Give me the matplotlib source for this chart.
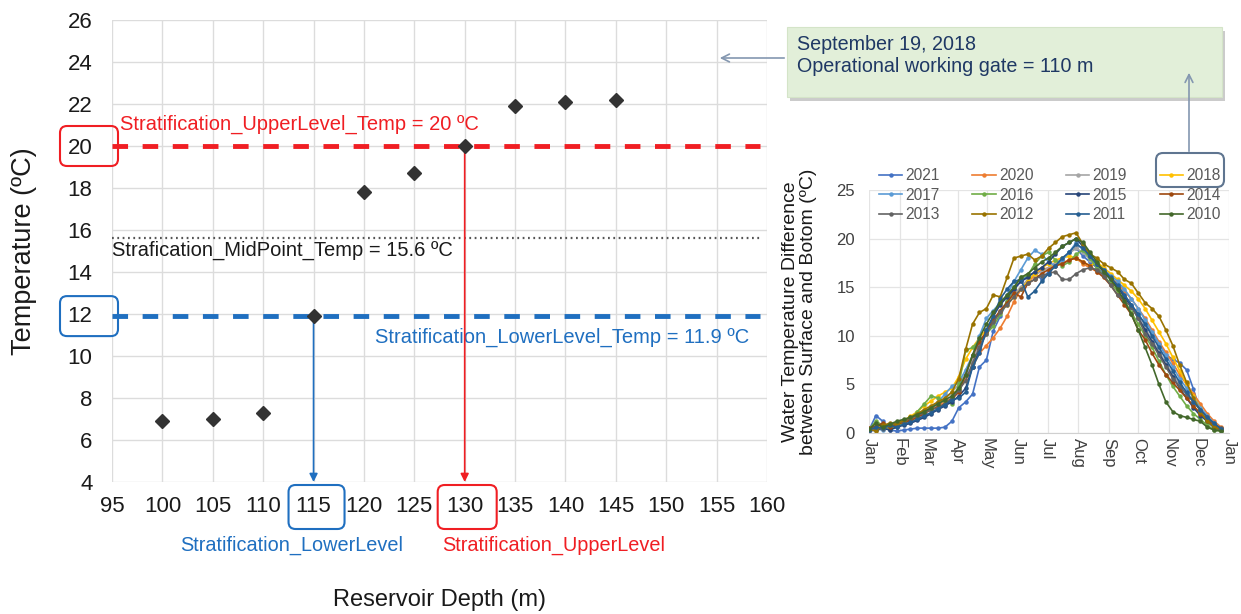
import matplotlib
matplotlib.use('Agg')
import matplotlib.pyplot as plt
import matplotlib.transforms as mtransforms
from matplotlib.patches import FancyBboxPatch, Rectangle, FancyArrowPatch
import numpy as np

plt.rcParams['font.family'] = ['Liberation Sans', 'DejaVu Sans']

# main chart data
depth = [100, 105, 110, 115, 120, 125, 130, 135, 140, 145]
temp = [6.9, 7.0, 7.3, 11.9, 17.8, 18.7, 20.0, 21.9, 22.1, 22.2]
upper_temp = 20
mid_temp = 15.6
lower_temp = 11.9
lower_depth = 115
upper_depth = 130
x_ticks = list(range(95, 161, 5))
y_ticks = list(range(4, 27, 2))

# inset data (weekly values from Jan 1)
months = ['Jan', 'Feb', 'Mar', 'Apr', 'May', 'Jun', 'Jul', 'Aug', 'Sep', 'Oct', 'Nov', 'Dec', 'Jan']
month_days = [0, 31, 59, 90, 120, 151, 181, 212, 243, 273, 304, 334, 365]
years = ['2021', '2020', '2019', '2018', '2017', '2016', '2015', '2014', '2013', '2012', '2011', '2010']
colors = ['#4472c4', '#ed7d31', '#a5a5a5', '#ffc000', '#5b9bd5', '#70ad47',
          '#264478', '#9e480e', '#636363', '#997300', '#255e91', '#43682b']

d2021 = [0.3, 1.8, 1.2, 0.3, 0.2, 0.3, 0.4, 0.5, 0.5, 0.5, 0.5, 0.6, 1.2, 2.6, 3.2, 4.0, 6.8, 7.5,
         10.5, 12.0, 13.5, 14.8, 15.6, 16.2, 16.5, 15.8, 16.6, 17.4, 17.8, 18.6, 19.0, 18.2, 17.6,
         17.0, 16.5, 15.8, 15.0, 14.2, 13.2, 12.2, 11.2, 10.2, 9.2, 8.0, 7.6, 7.2, 6.5, 4.5, 2.2,
         1.2, 0.5, 0.3]
d2020 = [0.4, 0.6, 0.8, 0.5, 0.9, 1.1, 1.4, 1.8, 2.2, 2.6, 2.9, 3.2, 3.6, 4.4, 5.5, 6.8, 8.2, 9.0,
         9.8, 10.8, 12.0, 13.5, 14.8, 15.5, 16.2, 16.8, 17.0, 17.3, 17.5, 17.8, 18.0, 17.4, 17.0,
         16.6, 16.4, 16.0, 15.4, 14.6, 13.8, 12.8, 11.8, 10.6, 9.4, 8.3, 7.2, 6.0, 5.0, 4.0, 3.0,
         2.0, 1.2, 0.6]
d2019 = [0.5, 0.4, 0.6, 0.8, 1.0, 1.3, 1.5, 1.9, 2.2, 2.5, 2.9, 3.5, 4.2, 5.0, 6.2, 7.6, 9.2, 10.4,
         11.5, 12.6, 13.5, 14.3, 15.0, 15.8, 16.3, 16.6, 17.0, 17.5, 18.0, 18.5, 19.0, 18.6, 17.8,
         17.2, 16.6, 16.0, 15.2, 14.2, 13.0, 12.0, 10.8, 9.6, 8.4, 7.2, 6.0, 5.0, 4.0, 3.2, 2.4,
         1.6, 0.9, 0.5]
d2018 = [0.3, 0.5, 0.7, 0.6, 1.0, 1.3, 1.7, 2.2, 2.8, 3.3, 3.8, 4.2, 4.6, 5.8, 7.6, 8.8, 9.8, 10.6,
         11.6, 12.4, 13.2, 14.0, 14.8, 15.6, 16.4, 17.0, 17.4, 17.8, 18.0, 18.2, 18.0, 17.6, 17.2,
         17.6, 17.0, 16.4, 15.8, 15.2, 14.6, 13.8, 12.8, 11.6, 10.4, 9.2, 7.8, 6.4, 5.0, 3.8, 2.6,
         1.6, 0.8, 0.4]
d2017 = [0.2, 0.4, 0.3, 0.7, 0.9, 1.0, 1.2, 1.6, 2.0, 2.6, 3.2, 4.0, 4.8, 5.2, 6.5, 8.0, 10.0, 11.8,
         12.6, 13.4, 14.2, 15.6, 16.8, 18.0, 18.8, 18.4, 17.6, 17.2, 17.8, 18.6, 19.6, 18.8, 18.0,
         17.2, 16.8, 16.2, 15.6, 14.8, 13.8, 12.8, 11.6, 10.4, 9.2, 8.0, 6.8, 5.6, 4.6, 3.6, 2.6,
         1.8, 1.0, 0.4]
d2016 = [0.4, 1.2, 0.8, 0.4, 0.7, 1.0, 1.4, 2.2, 3.0, 3.8, 3.6, 3.2, 3.0, 5.0, 8.5, 8.8, 9.5, 10.2,
         11.0, 12.2, 13.6, 15.0, 16.0, 16.2, 17.4, 18.2, 18.6, 17.8, 17.2, 17.6, 18.4, 18.8, 18.0,
         17.0, 16.2, 15.4, 14.6, 13.6, 12.4, 11.2, 10.0, 8.8, 7.4, 6.0, 4.8, 3.8, 2.8, 2.0, 1.4,
         0.8, 0.3, 0.2]
d2015 = [0.2, 0.3, 0.5, 0.3, 0.6, 0.8, 1.0, 1.3, 1.6, 2.0, 2.4, 2.8, 3.2, 3.8, 4.6, 6.8, 8.6, 10.6,
         12.0, 13.2, 14.0, 14.8, 15.6, 16.0, 16.6, 17.0, 17.6, 18.4, 19.2, 19.6, 20.0, 19.2, 18.2,
         17.4, 16.6, 15.8, 15.0, 14.0, 13.0, 11.8, 10.6, 9.4, 8.2, 7.0, 5.8, 4.6, 3.6, 2.6, 1.8,
         1.2, 0.6, 0.3]
d2014 = [0.5, 0.7, 1.0, 0.6, 0.9, 1.1, 1.3, 1.6, 2.0, 2.4, 2.7, 3.0, 3.5, 4.2, 6.0, 8.0, 9.4, 10.4,
         11.6, 12.6, 13.4, 14.4, 14.0, 15.4, 15.8, 16.4, 16.8, 17.2, 17.4, 17.8, 18.0, 17.6, 17.2,
         16.6, 16.0, 15.2, 14.2, 13.2, 12.2, 10.6, 9.6, 8.2, 7.0, 6.0, 5.2, 4.4, 3.6, 2.8, 2.0,
         1.4, 0.8, 0.5]
d2013 = [0.3, 0.5, 0.4, 0.8, 1.0, 1.2, 1.5, 1.8, 2.1, 2.4, 2.6, 3.0, 3.6, 4.4, 5.4, 7.2, 8.8, 10.2,
         11.4, 12.4, 13.2, 14.0, 14.8, 15.4, 15.8, 16.2, 16.4, 16.6, 15.8, 15.8, 16.4, 16.8, 17.0,
         16.8, 16.2, 15.2, 14.2, 13.6, 13.0, 11.8, 10.2, 9.2, 8.0, 6.8, 5.6, 4.8, 4.0, 3.2, 2.4,
         1.6, 0.9, 0.5]
d2012 = [0.4, 0.2, 0.8, 1.0, 0.9, 1.3, 1.6, 2.0, 2.4, 2.8, 3.2, 3.6, 4.2, 5.6, 8.6, 11.2, 12.4, 12.8,
         14.2, 14.0, 16.0, 18.0, 18.2, 18.4, 17.8, 18.2, 19.0, 19.6, 20.2, 20.4, 20.6, 19.4, 18.4,
         18.0, 17.4, 17.0, 16.6, 15.8, 15.4, 14.4, 13.4, 12.8, 12.0, 10.6, 9.0, 7.0, 5.2, 3.6, 2.2,
         1.2, 0.6, 0.3]
d2011 = [0.3, 0.6, 0.5, 0.8, 0.6, 0.9, 1.1, 1.4, 1.8, 2.1, 2.5, 2.9, 3.4, 3.6, 4.2, 6.8, 8.2, 10.6,
         12.0, 13.8, 14.8, 15.6, 15.8, 14.0, 14.6, 15.6, 16.4, 17.2, 18.0, 18.6, 19.4, 19.0, 18.2,
         17.4, 16.8, 16.0, 15.2, 14.2, 13.2, 12.2, 11.2, 10.0, 8.8, 7.6, 6.4, 5.2, 4.2, 3.2, 2.4,
         1.6, 1.0, 0.4]
d2010 = [0.4, 1.0, 0.6, 0.9, 1.2, 1.4, 1.6, 1.9, 2.2, 2.6, 3.0, 3.4, 3.8, 4.6, 6.0, 8.0, 9.8, 11.2,
         12.4, 13.4, 14.2, 15.0, 16.0, 16.4, 17.0, 17.6, 18.0, 18.6, 19.2, 19.6, 20.0, 19.6, 18.6,
         17.6, 16.6, 15.8, 14.8, 13.6, 12.2, 10.6, 8.8, 7.0, 5.0, 3.2, 2.2, 1.8, 1.6, 1.4, 1.2,
         0.6, 0.3, 0.2]
series = [d2021, d2020, d2019, d2018, d2017, d2016, d2015, d2014, d2013, d2012, d2011, d2010]

W, H = 1241, 614
red = '#f01e23'
blue = '#1f6fc0'
note = '#8497b0'

fig = plt.figure(figsize=(W / 100, H / 100), dpi=100)
ident = mtransforms.IdentityTransform()

# ---------------- main chart ----------------
ax = fig.add_axes([112 / W, 1 - 482 / H, 655 / W, 462 / H])
ax.set_xlim(95, 160)
ax.set_ylim(4, 26)
ax.set_xticks(x_ticks)
ax.set_yticks(y_ticks)
ax.grid(True, color='#dcdcdc', lw=1)
ax.set_axisbelow(True)
for s in ax.spines.values():
    s.set_visible(False)
ax.tick_params(length=0, labelsize=16, labelcolor='#1a1a1a')
ax.tick_params(axis='y', pad=14)
ax.tick_params(axis='x', pad=10)
ax.set_xlabel('Reservoir Depth (m)', fontsize=17, labelpad=52, color='#1a1a1a')
ax.set_ylabel('Temperature (ºC)', fontsize=19.5, labelpad=22, color='#1a1a1a')

ax.hlines(upper_temp, 95, 159.3, colors=red, lw=3.5, linestyles=(0, (3.2, 3.0)), zorder=3)
ax.hlines(lower_temp, 95, 159.3, colors=blue, lw=3.5, linestyles=(0, (3.2, 3.0)), zorder=3)
ax.hlines(mid_temp, 95, 159.3, colors='#555555', lw=1.6, linestyles=(0, (0.8, 1.6)), zorder=3)

ax.plot(depth, temp, 'D', color='#333333', ms=7, zorder=6)

ax.text(95.8, 21.05, f'Stratification_UpperLevel_Temp = {upper_temp} ºC', color=red,
        fontsize=14.5, va='center', ha='left')
ax.text(95.0, 15.05, f'Strafication_MidPoint_Temp = {mid_temp} ºC', color='#1a1a1a',
        fontsize=14.5, va='center', ha='left')
ax.text(121.1, 10.9, f'Stratification_LowerLevel_Temp = {lower_temp} ºC', color=blue,
        fontsize=14.5, va='center', ha='left')

ax.annotate('', xy=(lower_depth, 4), xytext=(lower_depth, lower_temp),
            arrowprops=dict(arrowstyle='-|>', color=blue, lw=1.2, mutation_scale=12,
                            shrinkA=0, shrinkB=0), zorder=5)
ax.annotate('', xy=(upper_depth, 4), xytext=(upper_depth, upper_temp),
            arrowprops=dict(arrowstyle='-|>', color=red, lw=1.2, mutation_scale=12,
                            shrinkA=0, shrinkB=0), zorder=5)

# rounded boxes around the highlighted tick labels (pixel space)
def rbox(x0, y0, w, h, ec, lw=1.5):
    fig.add_artist(FancyBboxPatch((x0, y0), w, h, boxstyle='round,pad=0,rounding_size=7',
                                  fc='none', ec=ec, lw=lw, transform=ident))

yu = ax.transData.transform((95, upper_temp))[1]
yl = ax.transData.transform((95, lower_temp))[1]
rbox(60, yu - 20, 58, 40, red)
rbox(60, yl - 20, 58, 40, blue)
xl = ax.transData.transform((lower_depth, 4))[0]
xu = ax.transData.transform((upper_depth, 4))[0]
rbox(xl - 25, H - 529, 56, 44, blue)
rbox(xu - 27, H - 529, 59, 44, red)

fig.text(292 / W, 1 - 545 / H, 'Stratification_LowerLevel', color=blue, fontsize=14.3,
         ha='center', va='center')
fig.text(442 / W, 1 - 545 / H, 'Stratification_UpperLevel', color=red, fontsize=14.3,
         ha='left', va='center')

# ---------------- inset chart ----------------
ax2 = fig.add_axes([869 / W, 1 - 433 / H, 360 / W, 243 / H])
for vals, c, yr in zip(series, colors, years):
    days = np.arange(len(vals)) * 7
    ax2.plot(days, vals, '-o', color=c, lw=1.2, ms=2.2, label=yr)
ax2.set_xlim(0, 365)
ax2.set_ylim(0, 25)
ax2.set_xticks(month_days)
ax2.set_xticklabels(months, rotation=270, fontsize=11.5, color='#404040')
ax2.set_yticks(range(0, 26, 5))
ax2.tick_params(length=0, labelsize=12, labelcolor='#404040')
ax2.tick_params(axis='y', pad=10)
ax2.grid(True, color='#e4e4e4', lw=0.9)
for k, s in ax2.spines.items():
    s.set_visible(k == 'bottom')
ax2.spines['bottom'].set_color('#d0d0d0')
ax2.set_ylabel('Water Temperature Difference\nbetween Surface and Botom (ºC)', fontsize=14,
               color='#1a1a1a', labelpad=14, linespacing=1.05)

# legend filled row by row (matplotlib fills columns first)
handles, labels = ax2.get_legend_handles_labels()
order = [r * 4 + c for c in range(4) for r in range(3)]
leg = ax2.legend([handles[i] for i in order], [labels[i] for i in order], ncol=4,
                 loc='upper left', bbox_to_anchor=(879 / W, 1 - 168 / H),
                 bbox_transform=fig.transFigure, frameon=False, fontsize=11.2,
                 handlelength=1.5, handletextpad=0.2, columnspacing=2.1,
                 labelspacing=0.3, borderpad=0, borderaxespad=0)
for t in leg.get_texts():
    t.set_color('#595959')

# ---------------- note box and arrows ----------------
fig.add_artist(Rectangle((790, H - 101), 435, 70, fc='#8c8c8c', ec='none', alpha=0.45,
                         transform=ident))
fig.add_artist(Rectangle((787, H - 97), 435, 70, fc='#e2efd9', ec='#d4e4c8', lw=0.8,
                         transform=ident))
fig.text(797 / W, 1 - 45 / H, 'September 19, 2018', color='#1f3864', fontsize=14.2,
         va='center', ha='left')
fig.text(797 / W, 1 - 67 / H, 'Operational working gate = 110 m', color='#1f3864',
         fontsize=14.2, va='center', ha='left')
fig.add_artist(FancyArrowPatch((787, H - 58), (717, H - 58), arrowstyle='->',
                               mutation_scale=14, color=note, lw=1.2, transform=ident))
fig.add_artist(FancyArrowPatch((1189, H - 154), (1189, H - 70), arrowstyle='->',
                               mutation_scale=14, color=note, lw=1.2, transform=ident))
rbox(1156, H - 187, 68, 34, '#5f7590', lw=1.5)

fig.savefig('out.png', dpi=100)
